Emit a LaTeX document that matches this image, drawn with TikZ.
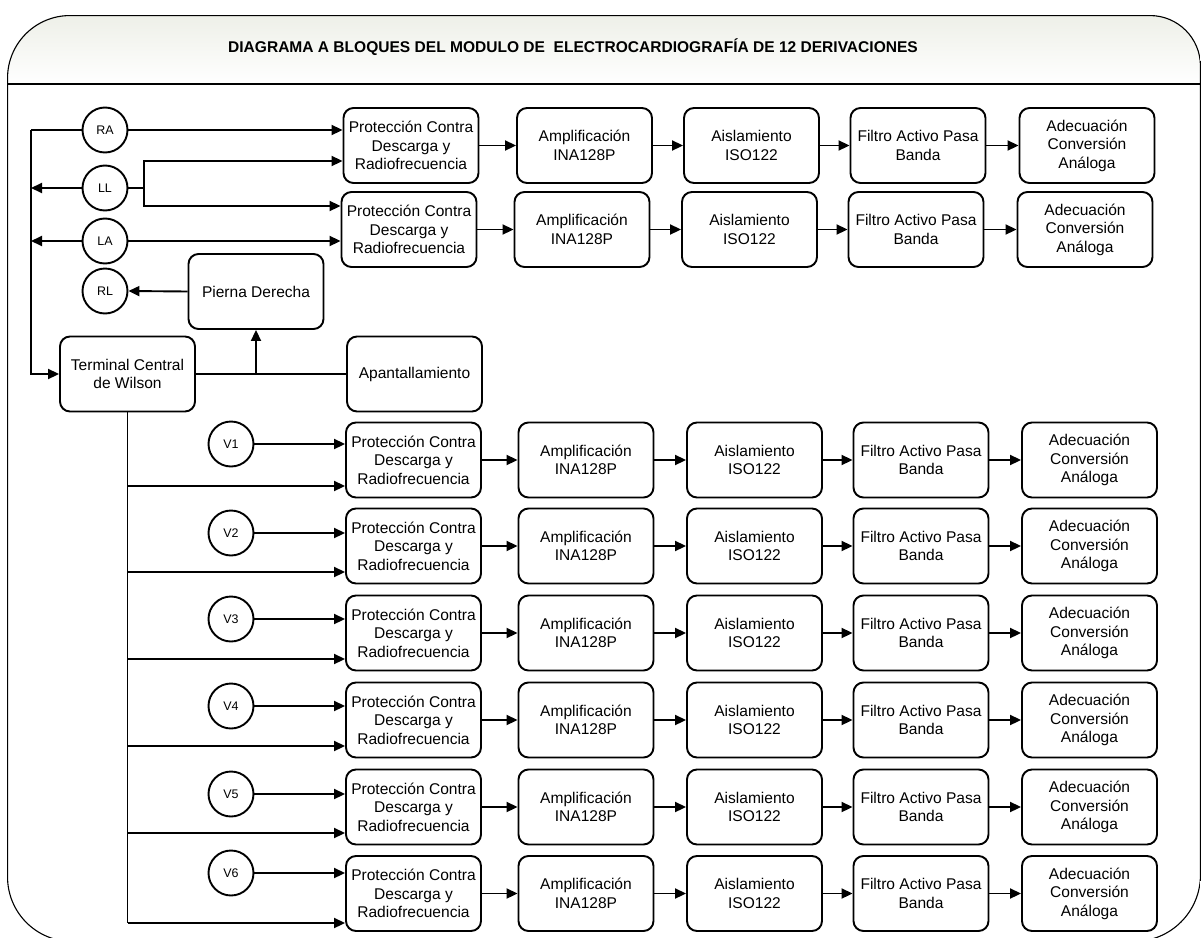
\documentclass[tikz,border=0pt]{standalone}
\usepackage{fontspec}
\setmainfont{Liberation Sans}
\usetikzlibrary{arrows.meta,calc}
\tikzset{
  blk/.style={draw, line width=1.9bp, rounded corners=10bp, minimum width=135bp, minimum height=75bp, align=center, inner sep=1bp, font=\fontsize{15.6}{18.6}\selectfont},
  elec/.style={draw, circle, line width=1.9bp, minimum size=45bp, inner sep=0pt, font=\fontsize{12.5}{14}\selectfont},
  wire/.style={line width=1.9bp},
  arr/.style={line width=1.9bp, -{Triangle[length=11bp,width=10bp]}},
}
\begin{document}
\begin{tikzpicture}[x=1bp,y=-1bp]
\useasboundingbox (0,0) rectangle (1201,938);
% frame
\path[clip] (7,877) -- (7,78) arc[start angle=180,end angle=270,radius=63] -- (1150,15) arc[start angle=270,end angle=360,radius=51] -- (1201,875) arc[start angle=0,end angle=90,radius=67] -- (72,942) arc[start angle=90,end angle=180,radius=65] -- cycle;
\shade[top color={rgb,255:red,234;green,236;blue,227}, bottom color=white] (0,0) rectangle (1201,84);
\draw[line width=2.2bp] (7,877) -- (7,78) arc[start angle=180,end angle=270,radius=63] -- (1150,15) arc[start angle=270,end angle=360,radius=51] -- (1201,875) arc[start angle=0,end angle=90,radius=67] -- (72,942) arc[start angle=90,end angle=180,radius=65] -- cycle;
\draw[line width=2bp] (7,84) -- (1201,84);
\node[font=\bfseries\fontsize{15.6}{17}\selectfont] (title) at (573,47) {DIAGRAMA A BLOQUES DEL MODULO DE\ \ ELECTROCARDIOGRAFÍA DE 12 DERIVACIONES};

% electrodes
\node[elec] (RA) at (105,130) {RA};
\node[elec] (LL) at (105,188) {LL};
\node[elec] (LA) at (105,241) {LA};
\node[elec] (RL) at (105,291) {RL};

% top two channels
\node[blk] (P1) at (411,145.5) {Protección Contra\\Descarga y\\Radiofrecuencia};
\node[blk] (A1) at (584.5,145.5) {Amplificación\\INA128P};
\node[blk] (I1) at (751.5,145.5) {Aislamiento\\ISO122};
\node[blk] (F1) at (918,145.5) {Filtro Activo Pasa\\Banda};
\node[blk] (D1) at (1087,145.5) {Adecuación\\Conversión\\Análoga};

\node[blk] (P2) at (409,229.5) {Protección Contra\\Descarga y\\Radiofrecuencia};
\node[blk] (A2) at (582,229.5) {Amplificación\\INA128P};
\node[blk] (I2) at (749.5,229.5) {Aislamiento\\ISO122};
\node[blk] (F2) at (916,229.5) {Filtro Activo Pasa\\Banda};
\node[blk] (D2) at (1085,229.5) {Adecuación\\Conversión\\Análoga};

\foreach \a/\b in {P1/A1,A1/I1,I1/F1,F1/D1,P2/A2,A2/I2,I2/F2,F2/D2}
  \draw[arr] (\a.east) -- (\b.west);

\node[blk] (Pi) at (256,291.5) {Pierna Derecha};
\node[blk] (T) at (127.5,374) {Terminal Central\\de Wilson};
\node[blk] (Ap) at (414.5,374) {Apantallamiento};

% left bus
\coordinate (busTop) at (31,130);
\draw[wire] (RA.west) -- (busTop);
\draw[arr] (busTop) -- (busTop |- T.west) -- (T.west);
\draw[arr] (LL.west) -- (LL.west -| busTop);
\draw[arr] (LA.west) -- (LA.west -| busTop);
% LL to both protections
\coordinate (LLj) at (144,188);
\coordinate (l1) at (144,161);
\coordinate (l2) at (144,206);
\draw[wire] (LL.east) -- (LLj);
\draw[arr] (LLj) -- (l1) -- (l1 -| P1.west);
\draw[arr] (LLj) -- (l2) -- (l2 -| P2.west);
\draw[arr] (RA.east) -- (RA.east -| P1.west);
\draw[arr] (LA.east) -- (LA.east -| P2.west);
% right leg & shield
\draw[arr] (Pi.west) -- (RL.east);
\draw[wire] (T.east) -- (Ap.west);
\draw[arr] (T.east -| Pi.south) -- (Pi.south);

% precordial channels
\foreach \k/\yc/\yv/\yb in {1/460/444/486, 2/546/533/572, 3/633/619/659, 4/720/706/746, 5/807/794/833, 6/893.5/873/923} {
  \node[elec] (V\k) at (231,\yv) {V\k};
  \node[blk] (PV\k) at (413.5,\yc) {Protección Contra\\Descarga y\\Radiofrecuencia};
  \node[blk] (AV\k) at (586,\yc) {Amplificación\\INA128P};
  \node[blk] (IV\k) at (754.5,\yc) {Aislamiento\\ISO122};
  \node[blk] (FV\k) at (921,\yc) {Filtro Activo Pasa\\Banda};
  \node[blk] (DV\k) at (1089.5,\yc) {Adecuación\\Conversión\\Análoga};
  \draw[arr] (PV\k.east) -- (AV\k.west);
  \draw[arr] (AV\k.east) -- (IV\k.west);
  \draw[arr] (IV\k.east) -- (FV\k.west);
  \draw[arr] (FV\k.east) -- (DV\k.west);
  \draw[arr] (V\k.east) -- (V\k.east -| PV\k.west);
  \coordinate (b\k) at (127.5,\yb);
  \draw[arr] (b\k) -- (b\k -| PV\k.west);
}
\draw[wire] (T.south) -- (b6);
\end{tikzpicture}
\end{document}
